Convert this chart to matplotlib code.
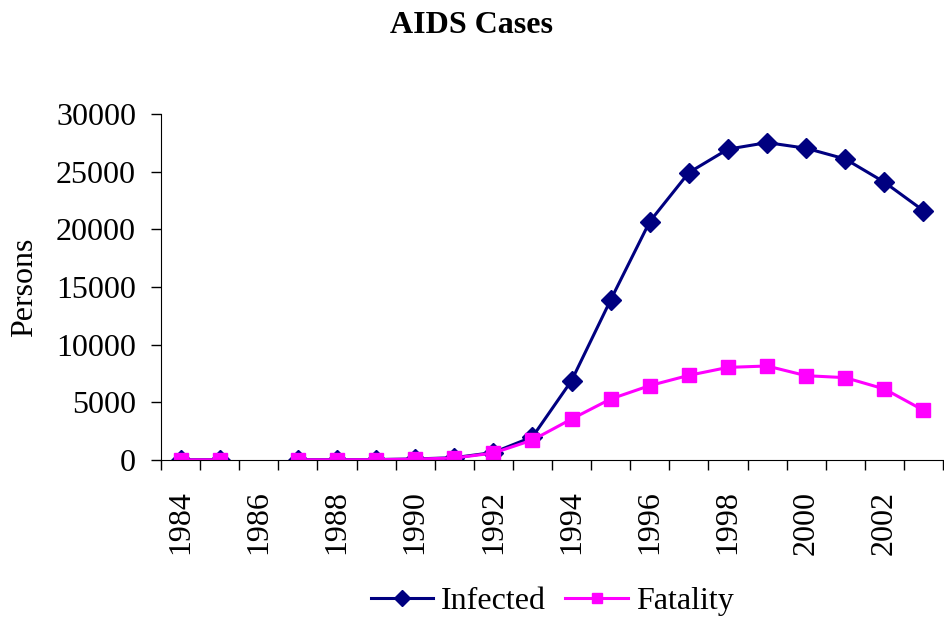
import numpy as np
import matplotlib.pyplot as plt

years = list(range(1984, 2004))
infected = [20, 30, np.nan, 30, 30, 40, 90, 200, 650, 2000, 6880, 13880, 20670,
            24920, 26950, 27520, 27030, 26100, 24090, 21620]
fatality = [10, 20, np.nan, 20, 20, 30, 80, 170, 600, 1730, 3550, 5290, 6450,
            7340, 8030, 8150, 7310, 7140, 6160, 4310]

plt.rcParams['font.family'] = ['Liberation Serif', 'DejaVu Serif']

fig = plt.figure(figsize=(9.44, 6.23), dpi=100)
ax = fig.add_axes([161 / 944, 163 / 623, 782 / 944, 346 / 623])

x = np.arange(len(years))
ax.plot(x, infected, color="#000080", linewidth=2.2, marker="D",
        markersize=10.5, label="Infected")
ax.plot(x, fatality, color="#FF00FF", linewidth=2.2, marker="s",
        markersize=10.5, label="Fatality")

ax.set_xlim(-0.5, len(years) - 0.5)
ax.set_ylim(0, 30000)
ax.set_yticks(range(0, 30001, 5000))

# labels every other year at category centres, ticks at category boundaries
ax.set_xticks(x[::2])
ax.set_xticklabels([str(y) for y in years[::2]], rotation=90)
ax.set_xticks(np.arange(-0.5, len(years), 1), minor=True)
ax.tick_params(axis='x', which='major', length=0, pad=22, labelsize=23)
ax.tick_params(axis='x', which='minor', length=7, width=1, direction='out')
ax.tick_params(axis='y', length=7, width=1, labelsize=23, pad=11)

for s in ['top', 'right']:
    ax.spines[s].set_visible(False)

ax.set_ylabel("Persons", fontsize=23, labelpad=12)
fig.suptitle("AIDS Cases", fontsize=23, fontweight='bold', y=0.982)

fig.legend(loc='center', bbox_to_anchor=(0.585, 0.035), ncol=2,
           frameon=False, fontsize=23, handlelength=1.95, handletextpad=0.25,
           columnspacing=0.6, markerscale=0.75)

fig.savefig("out.png", dpi=100)
